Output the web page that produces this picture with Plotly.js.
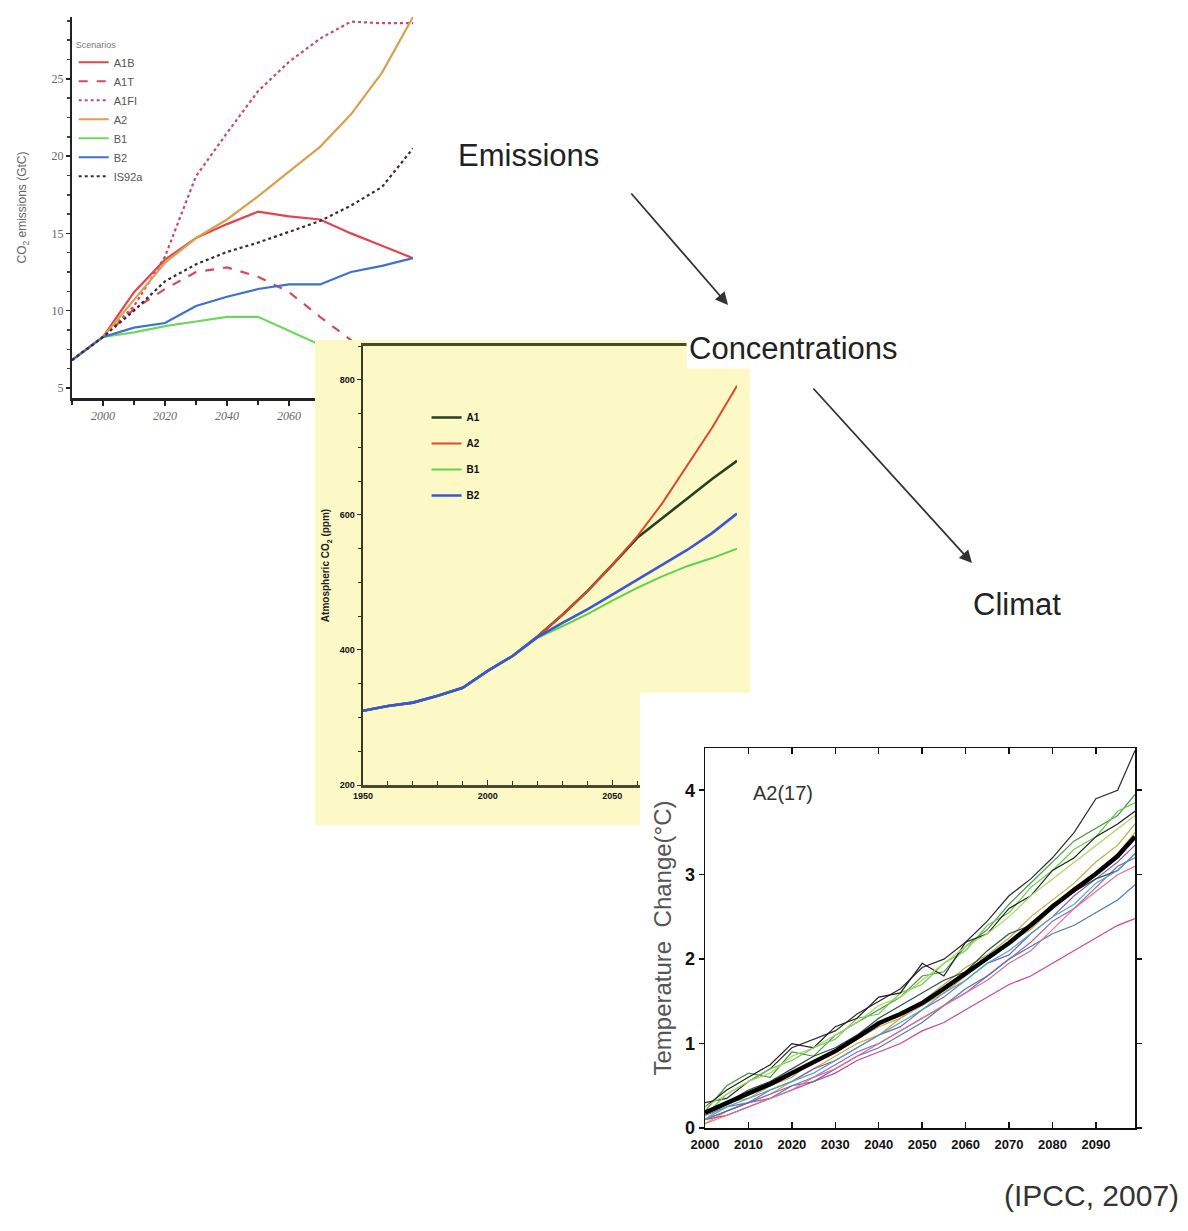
<!DOCTYPE html>
<html><head><meta charset="utf-8">
<script src="https://cdn.plot.ly/plotly-3.0.1.min.js"></script>
<style>
html,body{margin:0;padding:0;background:#fff;width:1188px;height:1231px;overflow:hidden;}
.pane{position:absolute;}
#emis{left:0;top:0;width:430px;height:440px;z-index:1;}
#conc{left:315px;top:340px;width:435px;height:485px;z-index:2;}
#temp{left:640px;top:693px;width:548px;height:538px;z-index:3;}
#labels{left:0;top:0;width:1188px;height:1231px;z-index:4;pointer-events:none;}
</style></head><body>
<div id="emis" class="pane"></div>
<div id="conc" class="pane"></div>
<div id="temp" class="pane"></div>
<div id="labels" class="pane"></div>
<script>
// ---------- Emissions (GtC) ----------
const emisYears = [1990,2000,2010,2020,2030,2040,2050,2060,2070,2080,2090,2100];
const emisA1B   = [6.8,8.3,11.2,13.3,14.7,15.6,16.4,16.1,15.9,15.0,14.2,13.4];
const emisA1T   = [6.8,8.3,10.1,11.4,12.5,12.8,12.2,11.2,9.6,8.1,6.2,4.5];
const emisA1FI  = [6.8,8.3,10.3,13.5,18.7,21.5,24.2,26.1,27.6,28.7,28.6,28.6];
const emisA2    = [6.8,8.3,10.7,13.1,14.7,15.9,17.4,19.0,20.6,22.7,25.4,29.0];
const emisB1    = [6.8,8.3,8.6,9.0,9.3,9.6,9.6,8.7,7.8,7.0,6.2,5.3];
const emisB2    = [6.8,8.3,8.9,9.2,10.3,10.9,11.4,11.7,11.7,12.5,12.9,13.4];
const emisIS92a = [6.8,8.3,10.0,11.9,13.0,13.8,14.4,15.1,15.8,16.8,18.0,20.5];
const emisNames = ["A1B","A1T","A1FI","A2","B1","B2","IS92a"];
const emisTicks = [5,10,15,20,25];
const emisYearTicks = [2000,2020,2040,2060,2080,2100];

// ---------- Concentrations (ppm) ----------
const concYears = [1950,1960,1970,1980,1990,2000,2010,2020,2030,2040,2050,2060,2070,2080,2090,2100];
const concA1 = [310,317,322,332,344,369,391,420,452,487,526,566,595,624,653,680];
const concA2 = [310,317,322,332,344,369,391,420,452,487,526,568,617,673,729,791];
const concB1 = [310,317,322,332,344,369,391,418,435,453,473,492,509,524,536,550];
const concB2 = [310,317,322,332,344,369,391,419,440,460,482,504,526,548,573,602];
const concNames = ["A1","A2","B1","B2"];
const concTicks = [200,400,600,800];
const concYearTicks = [1950,2000,2050,2100];

// ---------- Temperature change (°C), A2 (17 models) ----------
const tempYears = [2000,2005,2010,2015,2020,2025,2030,2035,2040,2045,2050,2055,2060,2065,2070,2075,2080,2085,2090,2095,2099];
const tempMean = [0.18,0.30,0.41,0.52,0.65,0.78,0.91,1.07,1.24,1.35,1.48,1.65,1.83,2.00,2.19,2.40,2.62,2.82,3.01,3.22,3.45];
const tempM01 = [0.30,0.35,0.55,0.70,0.95,1.05,1.15,1.35,1.50,1.65,1.90,2.00,2.20,2.45,2.75,2.95,3.20,3.50,3.90,4.00,4.47];
const tempM02 = [0.20,0.50,0.65,0.60,0.90,0.85,1.10,1.25,1.40,1.55,1.80,1.85,2.15,2.35,2.65,2.90,3.15,3.40,3.55,3.70,3.95];
const tempM03 = [0.15,0.40,0.55,0.70,0.80,0.95,1.05,1.30,1.35,1.60,1.70,1.95,2.10,2.40,2.55,2.85,3.05,3.30,3.45,3.75,3.85];
const tempM04 = [0.25,0.45,0.60,0.75,1.00,0.95,1.20,1.30,1.55,1.60,1.95,1.80,2.20,2.30,2.60,2.75,3.05,3.20,3.45,3.60,3.75];
const tempM05 = [0.10,0.30,0.35,0.50,0.60,0.80,0.90,1.05,1.20,1.30,1.50,1.70,1.90,2.05,2.25,2.50,2.70,2.90,3.15,3.35,3.60];
const tempM06 = [0.05,0.20,0.30,0.40,0.55,0.70,0.85,1.00,1.10,1.30,1.45,1.60,1.80,2.00,2.20,2.35,2.60,2.85,3.00,3.25,3.50];
const tempM07 = [0.10,0.20,0.30,0.45,0.55,0.70,0.80,0.95,1.10,1.20,1.40,1.55,1.75,1.95,2.05,2.30,2.50,2.75,2.95,3.15,3.35];
const tempM08 = [0.15,0.25,0.30,0.40,0.50,0.60,0.75,0.90,1.00,1.15,1.30,1.45,1.60,1.80,2.00,2.20,2.45,2.60,2.85,3.10,3.20];
const tempM09 = [0.10,0.15,0.25,0.35,0.45,0.55,0.65,0.80,0.90,1.00,1.15,1.25,1.40,1.55,1.70,1.80,1.95,2.10,2.25,2.40,2.48];
const tempM10 = [0.10,0.20,0.30,0.35,0.50,0.55,0.70,0.85,0.95,1.10,1.25,1.45,1.65,1.80,2.00,2.15,2.30,2.40,2.55,2.70,2.88];
const tempM11 = [0.20,0.30,0.45,0.55,0.70,0.85,0.95,1.10,1.30,1.45,1.60,1.75,1.85,2.10,2.30,2.40,2.65,2.80,2.95,3.05,3.25];
const tempM12 = [0.05,0.15,0.25,0.35,0.45,0.60,0.70,0.85,1.00,1.15,1.30,1.45,1.60,1.75,1.95,2.10,2.35,2.60,2.80,3.00,3.10];
const tempM13 = [0.25,0.40,0.55,0.65,0.85,0.95,1.10,1.25,1.45,1.55,1.75,1.95,2.15,2.30,2.50,2.75,2.95,3.15,3.35,3.55,3.70];
const tempM14 = [0.10,0.25,0.35,0.45,0.55,0.65,0.80,0.95,1.10,1.25,1.40,1.60,1.75,1.95,2.10,2.30,2.50,2.65,2.90,3.05,3.25];
const tempTicks = [0,1,2,3,4];
const tempYearTicks = [2000,2010,2020,2030,2040,2050,2060,2070,2080,2090];

const cfg = {staticPlot:true, displayModeBar:false};
const SANS = "Liberation Sans, Arial, sans-serif";

// ===== Emissions chart =====
(function(){
  const series = [emisA1B, emisA1T, emisA1FI, emisA2, emisB1, emisB2, emisIS92a];
  const colors = ["#e2464c","#d44a58","#c84a68","#d9a050","#6cd85a","#3f6fd0","#3a2a36"];
  const dashes = ["solid","dash","dot","solid","solid","solid","dot"];
  const traces = series.map((s,i)=>({
    x: emisYears, y: s, name: emisNames[i], type:"scatter", mode:"lines",
    line:{color:colors[i], width:2.2, dash:dashes[i]}
  }));
  const layout = {
    width:430, height:440, margin:{l:72,r:17,t:17,b:42},
    paper_bgcolor:"#ffffff", plot_bgcolor:"#ffffff",
    showlegend:true,
    legend:{x:0.005, y:0.95, xanchor:"left", yanchor:"top", bgcolor:"rgba(0,0,0,0)",
      font:{family:SANS, size:11, color:"#555"},
      title:{text:"Scenarios", font:{family:SANS, size:9, color:"#777"}},
      itemwidth:30, tracegroupgap:0},
    xaxis:{range:[1990,2100], tickvals:emisYearTicks, ticks:"outside", ticklen:5, tickwidth:1.5,
      tickcolor:"#222", showline:true, linecolor:"#222", linewidth:2.5, showgrid:false, zeroline:false,
      minor:{dtick:10, ticks:"outside", ticklen:4, tickcolor:"#222"},
      tickfont:{family:"Liberation Serif, serif", size:12, color:"#666", style:"italic"}},
    yaxis:{range:[4.35,29], tickvals:emisTicks, ticks:"outside", ticklen:4, tickwidth:1.5,
      tickcolor:"#222", showline:true, linecolor:"#222", linewidth:2, showgrid:false, zeroline:false,
      minor:{dtick:1.25, ticks:"outside", ticklen:3, tickcolor:"#444"},
      tickfont:{family:"Liberation Serif, serif", size:12, color:"#666"},
      title:{text:"CO<sub>2</sub> emissions (GtC)", standoff:22, font:{family:SANS, size:12, color:"#666"}}}
  };
  Plotly.newPlot("emis", traces, layout, cfg);
})();

// ===== Concentrations chart =====
(function(){
  const series = [concA1, concA2, concB1, concB2];
  const colors = ["#23401f","#dd4a2a","#5fd24a","#3a56d8"];
  const widths = [2.6,2,2,2.6];
  const traces = series.map((s,i)=>({
    x: concYears, y: s, name: concNames[i], legendgroup: concNames[i], type:"scatter", mode:"lines",
    line:{color:colors[i], width:widths[i]}
  }));
  const layout = {
    width:435, height:485, margin:{l:48,r:13,t:6,b:40},
    paper_bgcolor:"#fcf9c6", plot_bgcolor:"#fcf9c6",
    showlegend:true,
    legend:{x:0.17, y:0.87, xanchor:"left", yanchor:"top", bgcolor:"rgba(0,0,0,0)",
      font:{family:SANS, size:10, color:"#111", weight:"bold"}, itemwidth:30, tracegroupgap:7},
    xaxis:{range:[1950,2100], tickvals:concYearTicks, ticks:"inside", ticklen:5, tickcolor:"#333",
      showline:true, mirror:true, linecolor:"#4a4a30", linewidth:3, showgrid:false, zeroline:false,
      minor:{dtick:10, ticks:"inside", ticklen:4, tickcolor:"#333"},
      tickfont:{family:SANS, size:9, color:"#111", weight:"bold"}},
    yaxis:{range:[200,850], tickvals:concTicks, ticks:"outside", ticklen:4, tickcolor:"#333",
      showline:true, linecolor:"#3a3a28", linewidth:2.5, showgrid:false, zeroline:false,
      minor:{dtick:50, ticks:"outside", ticklen:3, tickcolor:"#333"},
      tickfont:{family:SANS, size:9, color:"#111", weight:"bold"},
      title:{text:"Atmospheric CO<sub>2</sub> (ppm)", standoff:8, font:{family:SANS, size:10, color:"#222", weight:"bold"}}}
  };
  Plotly.newPlot("conc", traces, layout, cfg);
})();

// ===== Temperature chart =====
(function(){
  const series = [tempM01,tempM02,tempM03,tempM04,tempM05,tempM06,tempM07,tempM08,tempM09,tempM10,tempM11,tempM12,tempM13,tempM14];
  const colors = ["#2a2a2a","#3f9a3a","#6ccc4a","#1e1e1e","#b8b040","#e0a030","#8a5fb0","#a060c0","#cc4499","#4a7ab0","#2f4a4a","#e07090","#a8d860","#40b0c0"];
  const traces = series.map((s,i)=>({
    x: tempYears, y: s, name: "model "+(i+1), type:"scatter", mode:"lines",
    line:{color:colors[i], width:1.2}, showlegend:false
  }));
  traces.push({x: tempYears, y: tempMean, name:"mean", type:"scatter", mode:"lines",
    line:{color:"#000", width:4.5}, showlegend:false});
  const layout = {
    width:548, height:538, margin:{l:65,r:53,t:55,b:103},
    paper_bgcolor:"#ffffff", plot_bgcolor:"#ffffff", showlegend:false,
    xaxis:{range:[2000,2099], tickvals:tempYearTicks, ticks:"inside", ticklen:6, tickwidth:1.5, tickcolor:"#111",
      showline:true, mirror:"ticks", linecolor:"#111", linewidth:1.5, showgrid:false, zeroline:false,
      ticklabelstandoff:4,
      tickfont:{family:SANS, size:13, color:"#111", weight:"bold"}},
    yaxis:{range:[0,4.5], tickvals:tempTicks, ticks:"outside", ticklen:5, tickwidth:1.5, tickcolor:"#111",
      showline:true, mirror:"ticks", linecolor:"#111", linewidth:1.5, showgrid:false, zeroline:false,
      tickfont:{family:SANS, size:18, color:"#111", weight:"bold"},
      title:{text:"Temperature  Change(°C)", standoff:6, font:{family:SANS, size:24, color:"#555"}}},
    annotations:[{x:2018, y:3.97, xref:"x", yref:"y", text:"A2(17)", showarrow:false,
      font:{family:SANS, size:20, color:"#333"}}]
  };
  Plotly.newPlot("temp", traces, layout, cfg);
})();

// ===== Overlay labels and arrows =====
(function(){
  const big = {family:SANS, size:31, color:"#222"};
  const layout = {
    width:1188, height:1231, margin:{l:0,r:0,t:0,b:0},
    paper_bgcolor:"rgba(0,0,0,0)", plot_bgcolor:"rgba(0,0,0,0)", showlegend:false,
    xaxis:{range:[0,1188], visible:false, fixedrange:true},
    yaxis:{range:[1231,0], visible:false, fixedrange:true},
    annotations:[
      {x:528, y:155, text:"Emissions", showarrow:false, font:big},
      {x:793, y:348, text:"Concentrations", showarrow:false, font:big, bgcolor:"#ffffff", borderpad:2},
      {x:1017, y:604, text:"Climat", showarrow:false, font:big},
      {x:1091, y:1195, text:"(IPCC, 2007)", showarrow:false, font:{family:SANS, size:30, color:"#333"}},
      {x:728, y:305, ax:630, ay:192, axref:"x", ayref:"y", xref:"x", yref:"y", text:"", showarrow:true,
        arrowhead:2, arrowsize:1.4, arrowwidth:1.8, arrowcolor:"#333", standoff:0},
      {x:972, y:563, ax:812, ay:387, axref:"x", ayref:"y", xref:"x", yref:"y", text:"", showarrow:true,
        arrowhead:2, arrowsize:1.4, arrowwidth:1.8, arrowcolor:"#333", standoff:0}
    ]
  };
  Plotly.newPlot("labels", [], layout, cfg);
})();
</script>
</body></html>
